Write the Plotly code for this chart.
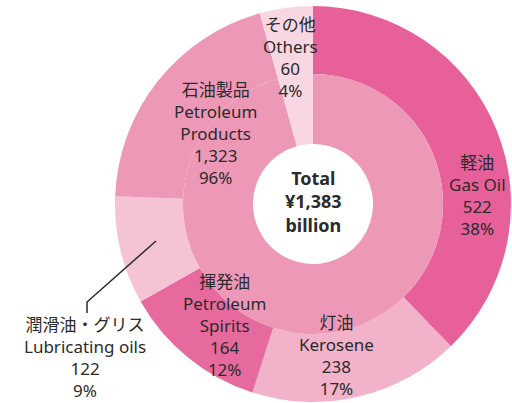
import plotly.graph_objects as go

# ---- data ----
outer_labels = ["Gas Oil", "Kerosene", "Petroleum Spirits", "Lubricating oils", "Other petroleum products", "Others"]
outer_values = [522, 238, 164, 122, 277, 60]
inner_labels = ["Petroleum Products", "Others"]
inner_values = [1323, 60]

label_jp = ["軽油", "灯油", "揮発油", "潤滑油・グリス", "石油製品", "その他"]
label_en = ["Gas Oil", "Kerosene", "Petroleum<br>Spirits", "Lubricating oils", "Petroleum<br>Products", "Others"]
label_val = ["522", "238", "164", "122", "1,323", "60"]
label_pct = ["38%", "17%", "12%", "9%", "96%", "4%"]
total_text = "Total<br>¥1,383<br>billion"

# ---- style ----
outer_colors = ["#e7609a", "#f2b2ca", "#e66a9d", "#f4c4d5", "#ee98b8", "#f8d7e3"]
inner_colors = ["#ee98b8", "#f8d7e3"]
W, H = 512, 403
cx, cy = 313, 204
R_out, R_in, R_hole = 198, 130, 60

def dom(r):
    y0 = max(0, 1 - (cy + r) / H)
    y1 = min(1, 1 - (cy - r) / H)
    return dict(x=[(cx - r) / W, min(1, (cx + r) / W)], y=[y0, y1])

fig = go.Figure()
fig.add_trace(go.Pie(labels=outer_labels, values=outer_values, sort=False, direction="clockwise",
                     rotation=0, hole=R_in / R_out, textinfo="none", hoverinfo="label+value",
                     marker=dict(colors=outer_colors, line=dict(width=0)), domain=dom(R_out),
                     showlegend=False))
fig.add_trace(go.Pie(labels=inner_labels, values=inner_values, sort=False, direction="clockwise",
                     rotation=0, hole=R_hole / R_in, textinfo="none", hoverinfo="label+value",
                     marker=dict(colors=inner_colors, line=dict(width=0)), domain=dom(R_in),
                     showlegend=False))

font = "Noto Sans, Noto Sans CJK JP, sans-serif"
txt_color = "#2b2b2b"
# label block centers (pixels)
pos = [(477, 196), (336, 355), (224, 325), (85, 357), (215, 133), (290, 57)]
ann = []
for i in range(6):
    x, y = pos[i]
    ann.append(dict(x=x / W, y=1 - y / H, xref="paper", yref="paper", showarrow=False,
                    text=f"{label_jp[i]}<br>{label_en[i]}<br>{label_val[i]}<br>{label_pct[i]}",
                    font=dict(family=font, size=17, color=txt_color), align="center",
                    xanchor="center", yanchor="middle"))
ann.append(dict(x=cx / W, y=1 - 202 / H, xref="paper", yref="paper", showarrow=False,
                text=f"<b>{total_text}</b>", font=dict(family=font, size=18, color=txt_color),
                align="center", xanchor="center", yanchor="middle"))

fig.add_shape(type="path", xref="paper", yref="paper",
              path=f"M {87/W} {1-313/H} L {87/W} {1-302/H} L {156/W} {1-241/H}",
              line=dict(color="#2b2b2b", width=1.5))

fig.update_layout(width=W, height=H, margin=dict(l=0, r=0, t=0, b=0),
                  paper_bgcolor="white", plot_bgcolor="white", annotations=ann)
fig.write_html("out.html", post_script="document.body.style.margin='0';",
               config={"displayModeBar": False})
